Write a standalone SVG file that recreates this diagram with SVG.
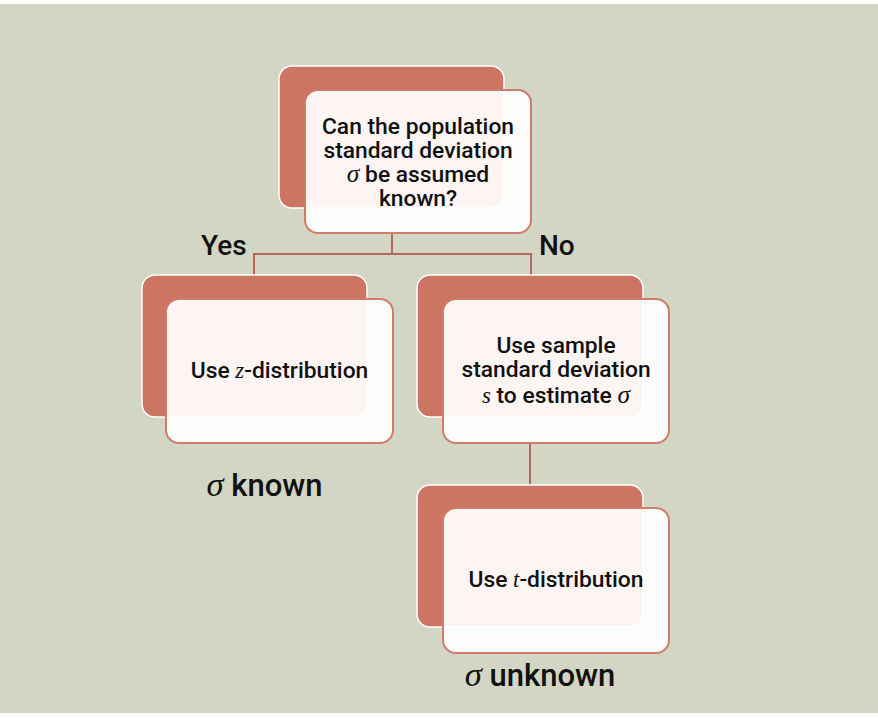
<svg xmlns="http://www.w3.org/2000/svg" width="878" height="718" viewBox="0 0 878 718">
<style>
.back{fill:#cd7563;stroke:#ffffff;stroke-width:1.5}
.front{fill:#ffffff;fill-opacity:0.93;stroke:#d07c6b;stroke-width:2}
.conn{fill:none;stroke:#b3695b;stroke-width:2}
.t{font-family:Roboto,"Liberation Sans",Arial,sans-serif;font-weight:500;font-size:22.8px;fill:#111111;text-anchor:middle}
.lbl{font-family:Roboto,"Liberation Sans",Arial,sans-serif;font-weight:500;font-size:28px;fill:#111111}
.big{font-size:31px;text-anchor:middle}
.m{font-family:"Liberation Serif","Times New Roman",serif;font-style:italic;font-weight:normal}
.sg{font-size:1.12em}
</style>
<rect x="0" y="0" width="878" height="718" fill="#ffffff"/>
<rect x="0" y="4" width="878" height="709" fill="#d3d6c4"/>
<g id="connectors">
<path class="conn" d="M392 233 V254 M254 276 V254 H531 V276"/>
<path class="conn" d="M530 443 V486"/>
</g>
<g id="node-question">
<rect class="back" x="279" y="66" width="225" height="142" rx="13"/>
<rect class="front" x="305" y="90" width="226" height="143" rx="13"/>
<text class="t" x="418" y="134">Can the population</text>
<text class="t" x="418" y="158">standard deviation</text>
<text class="t" x="418" y="182"><tspan class="m sg">σ</tspan> be assumed</text>
<text class="t" x="418" y="206">known?</text>
</g>
<g id="node-z">
<rect class="back" x="142" y="275" width="225" height="142" rx="13"/>
<rect class="front" x="166" y="299" width="227" height="144" rx="13"/>
<text class="t" x="279.5" y="378">Use <tspan class="m">z</tspan>-distribution</text>
</g>
<g id="node-sample">
<rect class="back" x="417" y="275" width="226" height="142" rx="13"/>
<rect class="front" x="443" y="299" width="226" height="144" rx="13"/>
<text class="t" x="556" y="353">Use sample</text>
<text class="t" x="556" y="377">standard deviation</text>
<text class="t" x="556" y="403"><tspan class="m">s</tspan> to estimate <tspan class="m sg">σ</tspan></text>
</g>
<g id="node-t">
<rect class="back" x="417" y="485" width="226" height="142" rx="13"/>
<rect class="front" x="443" y="508" width="226" height="145" rx="13"/>
<text class="t" x="556" y="587">Use <tspan class="m">t</tspan>-distribution</text>
</g>
<g id="labels">
<text class="lbl" x="201" y="255">Yes</text>
<text class="lbl" x="539" y="255">No</text>
<text class="lbl big" x="264.5" y="496"><tspan class="m sg">σ</tspan> known</text>
<text class="lbl big" x="540" y="686"><tspan class="m sg">σ</tspan> unknown</text>
</g>
</svg>
